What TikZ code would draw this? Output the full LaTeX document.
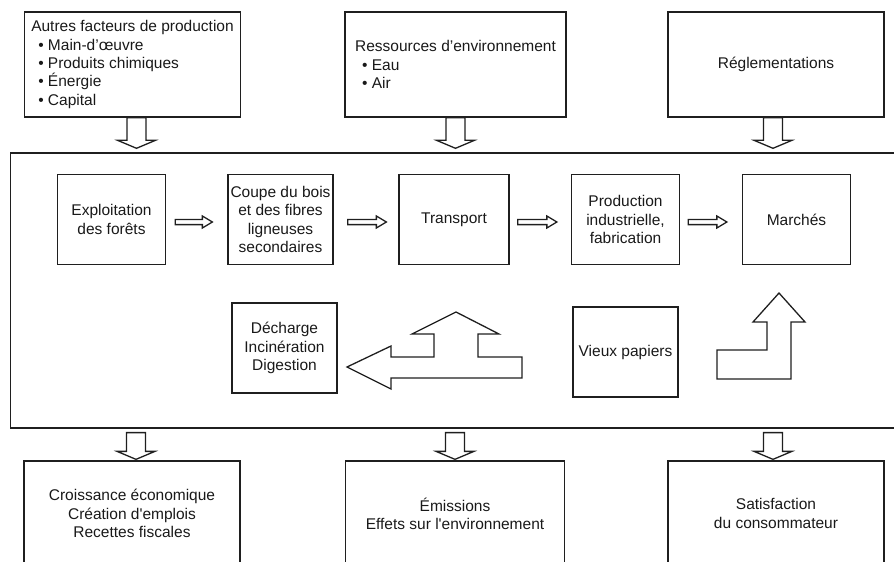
\documentclass[tikz,border=0pt]{standalone}
\usepackage{fontspec}
\setmainfont{Liberation Sans}
% same face without TeX ligatures, for straight apostrophes
\newfontfamily\plainface{Liberation Sans}
\usetikzlibrary{calc}
\newcommand\sq{{\plainface '}}
\begin{document}
\begin{tikzpicture}[x=1pt,y=-1pt,
  ink/.style={draw=black!88, line width=1.3pt},
  box/.style={ink, inner sep=0pt, align=center, text=black!90,
    font=\fontsize{15.5}{18.3}\selectfont},
  outer/.style={box, minimum height=105},
  stage/.style={box, minimum width=108, minimum height=90},
  % hollow arrow pointing right; #1 = gap after start, #2 = gap before target
  hollowright/.style 2 args={ink, line join=miter, to path={
    ($(\tikztostart)+(#1,-2.6)$) -- ($(\tikztotarget)+(-#2-10,-2.6)$)
    -- ($(\tikztotarget)+(-#2-10,-6)$) -- ($(\tikztotarget)+(-#2,0)$)
    -- ($(\tikztotarget)+(-#2-10,6)$) -- ($(\tikztotarget)+(-#2-10,2.6)$)
    -- ($(\tikztostart)+(#1,2.6)$) -- cycle}},
  % hollow arrow pointing down; #1 = gap after start, #2 = gap before target
  hollowdown/.style 2 args={ink, line join=miter, to path={
    ($(\tikztostart)+(-9.5,#1)$) -- ($(\tikztotarget)+(-9.5,-#2-8)$)
    -- ($(\tikztotarget)+(-19,-#2-8)$) -- ($(\tikztotarget)+(0,-#2)$)
    -- ($(\tikztotarget)+(19,-#2-8)$) -- ($(\tikztotarget)+(9.5,-#2-8)$)
    -- ($(\tikztostart)+(9.5,#1)$) -- cycle}},
]
\useasboundingbox (0,0) rectangle (894,562);
\clip (0,0) rectangle (894,562);

% inputs
\node[outer, minimum width=216, align=left] (inputs) at (132.5,64.5)
  {Autres facteurs de production\\
   \hspace*{7pt}• Main-d’œuvre\\
   \hspace*{7pt}• Produits chimiques\\
   \hspace*{7pt}• Énergie\\
   \hspace*{7pt}• Capital};
\node[outer, minimum width=221, align=left] (resources) at (455.5,64.5)
  {Ressources d’environnement\\
   \hspace*{7pt}• Eau\\
   \hspace*{7pt}• Air};
\node[outer, minimum width=216] (rules) at (776,64.5) {Réglementations};

% the production system
\node[ink, inner sep=0pt, anchor=north west, minimum width=900,
  minimum height=275] (frame) at (9.5,152.3) {};

\node[stage] (forest) at (111.5,219.5) {Exploitation\\des forêts};
\node[stage, minimum width=105] (cut) at (280.5,219.5)
  {Coupe du bois\\et des fibres\\ligneuses\\secondaires};
\node[stage, minimum width=110] (transport) at (454,219.5) {Transport};
\node[stage] (industry) at (625.5,219.5) {Production\\industrielle,\\fabrication};
\node[stage] (markets) at (796.5,219.5) {Marchés};

\draw[hollowright={9}{15}] ([yshift=-2.5pt]forest.east) to ([yshift=-2.5pt]cut.west);
\draw[hollowright={14}{12}] ([yshift=-2.5pt]cut.east) to ([yshift=-2.5pt]transport.west);
\draw[hollowright={8}{14}] ([yshift=-2.5pt]transport.east) to ([yshift=-2.5pt]industry.west);
\draw[hollowright={8}{15}] ([yshift=-2.5pt]industry.east) to ([yshift=-2.5pt]markets.west);

\node[stage, minimum width=105] (disposal) at (284.5,348)
  {Décharge\\Incinération\\Digestion};
\node[stage, minimum width=105] (waste) at (625.5,352) {Vieux papiers};

% split arrow: to disposal and back up
\draw[ink, line join=miter] (347,367) -- (391,346) -- (391,357) -- (434,357)
  -- (434,334) -- (412,334) -- (456,312) -- (499,334) -- (478,334)
  -- (478,357) -- (522,357) -- (522,378) -- (391,378) -- (391,389) -- cycle;
% bent arrow towards the markets
\draw[ink, line join=miter] (717,350) -- (767,350) -- (767,322) -- (753,322)
  -- (779,293) -- (805,322) -- (791,322) -- (791,379) -- (717,379) -- cycle;

% outcomes
\node[outer, minimum width=216] (growth) at (132,513.5)
  {Croissance économique\\Création d\sq emplois\\Recettes fiscales};
\node[outer, minimum width=219] (emissions) at (455,513.5)
  {Émissions\\Effets sur l\sq environnement};
\node[outer, minimum width=216] (consumer) at (776,513.5)
  {Satisfaction\\du consommateur};

% flows into and out of the system
\coordinate (i1) at ([xshift=4pt]inputs.south);
\coordinate (i2) at (resources.south);
\coordinate (i3) at ([xshift=-3pt]rules.south);
\draw[hollowdown={0}{4}] (i1) to (i1 |- frame.north);
\draw[hollowdown={0}{4}] (i2) to (i2 |- frame.north);
\draw[hollowdown={0}{4}] (i3) to (i3 |- frame.north);

\coordinate (o1) at ([xshift=4pt]growth.north);
\coordinate (o2) at (emissions.north);
\coordinate (o3) at ([xshift=-3pt]consumer.north);
\draw[hollowdown={4}{1}] (o1 |- frame.south) to (o1);
\draw[hollowdown={4}{1}] (o2 |- frame.south) to (o2);
\draw[hollowdown={4}{1}] (o3 |- frame.south) to (o3);
\end{tikzpicture}
\end{document}
